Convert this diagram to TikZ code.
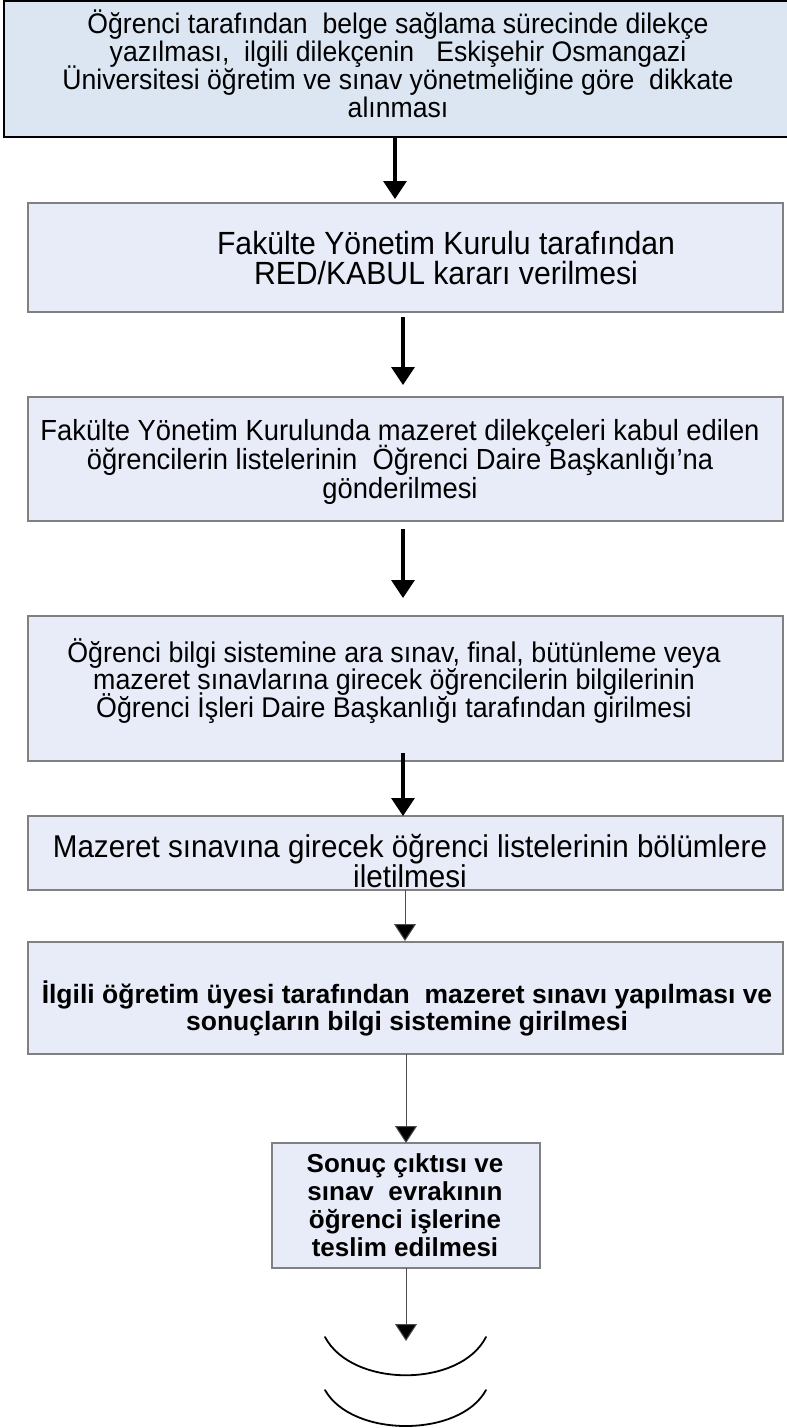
\documentclass[tikz,border=0pt]{standalone}
\usepackage{fontspec}
\setmainfont{Liberation Sans}
\newfontfamily\regfont{Liberation Sans}[FakeStretch=0.94]
\usetikzlibrary{arrows.meta}
\definecolor{fillA}{RGB}{220,230,242}
\definecolor{fillB}{RGB}{232,236,248}
\definecolor{edgeB}{RGB}{128,128,128}
\tikzset{
  topbox/.style={rectangle,inner sep=0pt,outer sep=0pt,draw=black,line width=2.5pt,fill=fillA},
  stepbox/.style={rectangle,inner sep=0pt,outer sep=0pt,draw=edgeB,line width=1.3pt,fill=fillB},
  txt/.style={inner sep=0pt,align=center,text=black,execute at begin node={\lineskiplimit=-40pt\lineskip=0pt}},
  thickarr/.style={line width=3.5pt,-{Triangle[width=23pt,length=18pt]}},
  thinarr/.style={line width=1pt,draw=black!70,-{Triangle[width=22pt,length=17pt,fill=black]}},
  arcline/.style={line width=1.8pt,line cap=round}
}
\begin{document}
\lineskiplimit=-40pt
\lineskip=0pt
\begin{tikzpicture}[x=1pt,y=-1pt]
\useasboundingbox (0,0) rectangle (787,1428);
\fill[white] (0,0) rectangle (787,1428);

% boxes
\node[topbox,minimum width=788pt,minimum height=136pt] (b1) at (398,69) {};
\node[stepbox,minimum width=755pt,minimum height=109pt] (b2) at (405.5,257.5) {};
\node[stepbox,minimum width=755pt,minimum height=124pt] (b3) at (405.5,459) {};
\node[stepbox,minimum width=755pt,minimum height=145pt] (b4) at (405.5,688.5) {};
\node[stepbox,minimum width=755pt,minimum height=74pt] (b5) at (405.5,853) {};
\node[stepbox,minimum width=755pt,minimum height=112pt] (b6) at (405.5,998) {};
\node[stepbox,minimum width=268pt,minimum height=125pt] (b7) at (406,1205.5) {};

% texts
\node[txt,font=\regfont\fontsize{28.3}{28}\selectfont] (t1) at (398,64)
 {Öğrenci tarafından\ \ belge sağlama sürecinde dilekçe\\
  yazılması,\ \ ilgili dilekçenin\ \ \ Eskişehir Osmangazi\\
  Üniversitesi öğretim ve sınav yönetmeliğine göre\ \ dikkate\\
  alınması};
\node[txt,font=\regfont\fontsize{32.1}{30}\selectfont] (t2) at (446,258)
 {Fakülte Yönetim Kurulu tarafından\\ RED/KABUL kararı verilmesi};
\node[txt,font=\regfont\fontsize{29.1}{29}\selectfont] (t3) at (400,462)
 {Fakülte Yönetim Kurulunda mazeret dilekçeleri kabul edilen\\
  öğrencilerin listelerinin\ \ Öğrenci Daire Başkanlığı’na\\
  gönderilmesi};
\node[txt,font=\regfont\fontsize{28.5}{27.5}\selectfont] (t4) at (394,681)
 {Öğrenci bilgi sistemine ara sınav, final, bütünleme veya\\
  mazeret sınavlarına girecek öğrencilerin bilgilerinin\\
  Öğrenci İşleri Daire Başkanlığı tarafından girilmesi};
\node[txt,font=\regfont\fontsize{31.5}{30}\selectfont] (t5) at (410,861)
 {Mazeret sınavına girecek öğrenci listelerinin bölümlere\\ iletilmesi};
\node[txt,font=\fontsize{26.5}{27}\selectfont\bfseries] (t6) at (407,1008)
 {İlgili öğretim üyesi tarafından\ \ mazeret sınavı yapılması ve\\
  sonuçların bilgi sistemine girilmesi};
\node[txt,font=\fontsize{26}{28}\selectfont\bfseries] (t7) at (405,1205)
 {Sonuç çıktısı ve\\ sınav\ \ evrakının\\ öğrenci işlerine\\ teslim edilmesi};

% connectors
\draw[thickarr] ([xshift=-3pt]b1.south) -- ([xshift=-10.5pt,yshift=4pt]b2.north);
\draw[thickarr] ([xshift=-2.5pt,yshift=-5pt]b2.south) -- ([xshift=-2.5pt,yshift=12pt]b3.north);
\draw[thickarr] ([xshift=-2.5pt,yshift=-8pt]b3.south) -- ([xshift=-2.5pt,yshift=18pt]b4.north);
\draw[thickarr] ([xshift=-2.5pt,yshift=8pt]b4.south) -- ([xshift=-2.5pt]b5.north);
\draw[thinarr] ([xshift=-0.5pt]b5.south) -- ([xshift=-0.5pt,yshift=1pt]b6.north);
\draw[thinarr] ([xshift=0.5pt]b6.south) -- (b7.north);
\coordinate (endpt) at (406,1341);
\draw[thinarr] (b7.south) -- (endpt);

% closing arcs
\draw[arcline] (325,1337) .. controls (352,1388) and (460,1388) .. (486,1337);
\draw[arcline] (325,1390) .. controls (352,1438) and (460,1438) .. (486,1390);
\end{tikzpicture}
\end{document}
